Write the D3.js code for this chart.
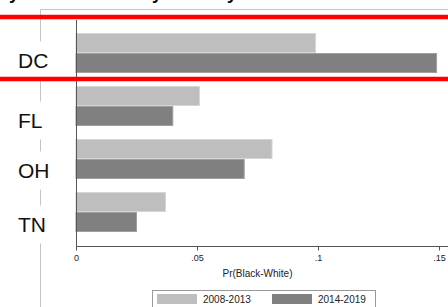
<!doctype html>
<html>
<head>
    <script src="https://cdnjs.cloudflare.com/ajax/libs/d3/7.8.5/d3.min.js"></script>
    <style>
        body { margin: 0; background: #fff; }
        svg { display: block; font-family: "Liberation Sans", Arial, sans-serif; }
    </style>
</head>
<body>
<svg width="448" height="307"></svg>
<script>
    // data
    states = ["DC", "FL", "OH", "TN"];
    periods = ["2008-2013", "2014-2019"];
    pr2008 = [0.099, 0.051, 0.081, 0.037];
    pr2014 = [0.149, 0.040, 0.0695, 0.025];
    xTicks = [0, 0.05, 0.1, 0.15];
    xTickLabels = ["0", ".05", ".1", ".15"];
    titleText = "Probability of Mixed Survey Pairs by Year";

    colors = {"2008-2013": "#bebebe", "2014-2019": "#808080"};
    strokes = {"2008-2013": "#d6d6d6", "2014-2019": "#a0a0a0"};
    // labels in the original sit a little off their bar groups
    labelNudge = {"DC": 7.5, "FL": 14.5, "OH": 11.5, "TN": 12.5};

    svg = d3.select("svg");

    x = d3.scaleLinear().domain([0, 0.15]).range([76, 439]);
    y = d3.scaleBand().domain(states).range([20, 245])
        .paddingInner(13 / 53).paddingOuter(13 / 53);
    ySub = d3.scaleBand().domain(periods).range([0, y.bandwidth()]);

    rows = states.map((s, i) => ({state: s, values: [
        {period: periods[0], v: pr2008[i]},
        {period: periods[1], v: pr2014[i]}
    ]}));

    // title, mostly cropped off the top
    svg.append("text")
        .attr("x", -74)
        .attr("y", -1.5)
        .style("font-size", "18px")
        .style("font-weight", "bold")
        .text(titleText);

    // light box around the label column
    svg.append("path")
        .attr("d", "M40.5,307V9.5H448")
        .style("fill", "none")
        .style("stroke", "#c4c4c4");

    // bars
    g = svg.selectAll("g.row")
        .data(rows)
        .enter()
        .append("g")
        .attr("class", "row")
        .attr("transform", d => "translate(0," + y(d.state) + ")");

    g.selectAll("rect")
        .data(d => d.values)
        .enter()
        .append("rect")
        .attr("x", x(0))
        .attr("y", d => ySub(d.period) + 0.5)
        .attr("width", d => x(d.v) - x(0))
        .attr("height", ySub.bandwidth() - 1)
        .style("fill", d => colors[d.period])
        .style("stroke", d => strokes[d.period])
        .style("stroke-width", 1);

    // state labels with white backing that breaks the box line
    labels = svg.selectAll("g.lab")
        .data(states)
        .enter()
        .append("g")
        .attr("class", "lab")
        .attr("transform", d => "translate(0," + (y(d) + y.bandwidth() / 2 + labelNudge[d]) + ")");

    labels.append("rect")
        .attr("x", 30)
        .attr("y", -19)
        .attr("width", 22)
        .attr("height", 38)
        .style("fill", "white");

    labels.append("text")
        .attr("x", 18)
        .attr("dy", "0.36em")
        .style("font-size", "21px")
        .style("fill", "#111")
        .text(d => d);

    // y axis line
    svg.append("line")
        .attr("x1", 76.5).attr("x2", 76.5)
        .attr("y1", 20).attr("y2", 246.5)
        .style("stroke", "#555");

    // x axis
    xAxis = svg.append("g")
        .attr("transform", "translate(0,246.5)")
        .call(d3.axisBottom(x)
            .tickValues(xTicks)
            .tickFormat((d, i) => xTickLabels[i])
            .tickSize(4)
            .tickSizeOuter(0)
            .tickPadding(4));
    xAxis.select(".domain").remove();
    xAxis.selectAll(".tick line").style("stroke", "#555");
    xAxis.selectAll(".tick text")
        .style("font-family", "Liberation Sans, Arial, sans-serif")
        .style("font-size", "9px")
        .style("fill", "#222");
    xAxis.append("line")
        .attr("x1", 76).attr("x2", 448)
        .style("stroke", "#555");

    svg.append("text")
        .attr("x", (x(0) + x(0.15)) / 2)
        .attr("y", 277)
        .attr("text-anchor", "middle")
        .style("font-size", "10px")
        .style("fill", "#222")
        .text("Pr(Black-White)");

    // legend
    svg.append("rect")
        .attr("x", 152.5)
        .attr("y", 290.5)
        .attr("width", 223)
        .attr("height", 30)
        .style("fill", "white")
        .style("stroke", "#999");

    leg = svg.selectAll("g.leg")
        .data(periods)
        .enter()
        .append("g")
        .attr("class", "leg")
        .attr("transform", (d, i) => "translate(" + (157 + i * 115) + ",294)");

    leg.append("rect")
        .attr("width", 40)
        .attr("height", 10)
        .style("fill", d => colors[d]);

    leg.append("text")
        .attr("x", 46)
        .attr("y", 9)
        .style("font-size", "10px")
        .style("fill", "#222")
        .text(d => d);

    // red highlight lines
    svg.selectAll("line.red")
        .data([17, 79])
        .enter()
        .append("line")
        .attr("class", "red")
        .attr("x1", 0).attr("x2", 448)
        .attr("y1", d => d).attr("y2", d => d)
        .style("stroke", "#ff0000")
        .style("stroke-width", 4.5);
</script>
</body>
</html>
